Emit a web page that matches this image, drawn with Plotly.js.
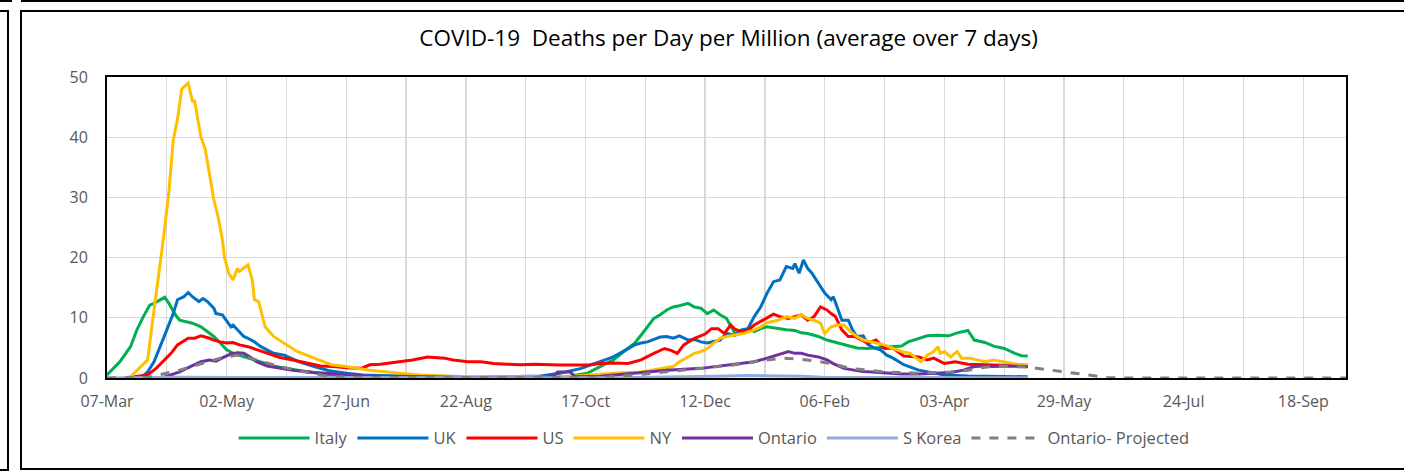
<!DOCTYPE html>
<html>
<head>
<meta charset="utf-8">
<script src="https://cdn.plot.ly/plotly-3.0.1.min.js"></script>
<style>
  html, body { margin: 0; padding: 0; background: #fff; }
  #wrap { position: relative; width: 1404px; height: 473px; overflow: hidden; }
  #chart { position: absolute; left: 0; top: 0; width: 1404px; height: 473px; }
  .ln { position: absolute; background: #000; pointer-events: none; }
</style>
</head>
<body>
<div id="wrap">
  <div id="chart"></div>
  <!-- frame lines of the surrounding chart boxes -->
  <div class="ln" style="left:21px;top:0;width:1383px;height:2px"></div>
  <div class="ln" style="left:0;top:0;width:12px;height:2px"></div>
  <div class="ln" style="left:0;top:10px;width:9px;height:2px"></div>
  <div class="ln" style="left:7px;top:10px;width:2px;height:461px"></div>
  <div class="ln" style="left:0;top:469px;width:9px;height:2px"></div>
  <div class="ln" style="left:20px;top:10px;width:1384px;height:2px"></div>
  <div class="ln" style="left:20px;top:10px;width:2px;height:460px"></div>
  <div class="ln" style="left:20px;top:468px;width:1384px;height:2px"></div>
</div>
<script>
// Day offsets are counted from START_DATE (07-Mar-2020)
const START_DATE = '2020-03-07';
const END_DATE = '2021-10-08';

const italyDays = [0,6,11,14,17,20,22,25,27,29,32,34,37,40,44,47,50,53,56,59,65,72,78,84,94,104,112,130,150,170,190,205,215,225,231,237,243,247,250,253,256,259,262,265,268,272,275,278,281,284,287,290,294,297,300,303,306,309,312,315,318,322,325,328,333,337,342,347,351,356,361,365,369,372,375,380,384,389,394,398,403,406,411,415,420,425,428,431];
const italyVals = [0.5,2.7,5.2,8,10.2,12.1,12.4,13,13.4,12.4,10.5,9.6,9.4,9.1,8.5,7.7,6.9,5.8,4.7,4.1,3.4,2.7,2.0,1.6,1.05,0.5,0.25,0.2,0.15,0.15,0.2,0.2,0.2,0.8,1.9,3,4.7,5.8,7.1,8.5,9.9,10.5,11.3,11.8,12,12.4,11.8,11.6,10.7,11.3,10.5,9.9,7.4,7.7,8.2,7.7,8.2,8.5,8.3,8.1,8,7.9,7.5,7.4,6.9,6.3,5.8,5.4,5.0,4.9,5.0,5.1,5.2,5.3,6,6.6,7,7.1,7,7.5,7.9,6.3,5.9,5.3,4.9,4.1,3.7,3.65];

const ukDays = [16,19,22,25,28,31,33,36,38,40,43,45,47,50,51,54,56,58,59,62,64,66,69,72,75,78,83,86,90,97,104,112,120,136,160,185,203,212,222,231,237,240,244,247,250,253,256,259,262,265,268,272,275,278,281,284,287,290,294,297,300,303,306,309,312,315,318,321,322,324,326,328,330,332,334,336,339,340,342,344,347,349,351,354,356,359,362,365,368,371,373,380,386,392,403,418,431];
const ukVals = [0.05,1,2.7,5.5,8,10.7,13,13.5,14.2,13.5,12.7,13.2,12.7,11.6,10.7,10.5,9.4,8.5,8.8,7.7,6.9,6.6,6,5.2,4.7,4.1,3.8,3.3,2.7,1.9,1.2,0.8,0.5,0.35,0.25,0.2,0.35,0.8,1.6,2.7,3.5,4.1,4.9,5.5,5.8,6,6.4,6.8,6.9,6.6,7,6.3,6.4,6,5.8,6,6.3,7.4,7.1,8,8.2,10.2,11.8,14.1,16,16.3,18.5,18.2,19,17.4,19.6,18.2,17.4,16.3,15.2,14.1,13,13.5,11.6,9.6,9.6,8,6.9,7.0,5.6,5.0,4.7,3.8,3.3,2.6,2.2,1.3,0.9,0.5,0.35,0.25,0.2];

const usDays = [9,19,23,26,30,33,35,38,41,44,48,50,53,56,59,62,66,70,75,81,87,94,100,106,112,119,123,128,136,143,150,153,158,162,169,175,181,187,194,200,206,212,219,225,231,237,244,250,256,261,264,267,270,275,280,283,286,289,292,294,297,300,303,306,309,312,315,319,322,325,328,331,334,337,339,341,344,347,350,353,356,360,362,364,367,369,373,380,384,387,392,397,403,411,419,426,431];
const usVals = [0.05,0.5,1.6,2.7,4.1,5.5,6,6.6,6.6,7,6.6,6.3,6,5.8,5.9,5.5,5.2,4.7,4.1,3.4,3,2.4,2,1.9,1.7,1.6,2.2,2.3,2.7,3,3.5,3.4,3.3,3,2.7,2.7,2.4,2.3,2.2,2.3,2.2,2.15,2.15,2.15,2.4,2.5,2.4,3,4.1,4.9,4.6,4.1,5.5,6.6,7.3,8.2,8.2,7.4,8.8,8.1,7.7,7.9,8.8,9.4,9.9,10.6,10.2,9.9,10.2,10.5,9.6,10.2,11.8,11.3,10.7,10.2,8,6.9,6.9,6.3,5.8,6.3,5.6,4.9,5.0,4.7,3.65,3.5,3,3.3,2.4,2.7,2.3,2.2,2.1,2.2,1.8];

const nyDays = [11,19,23,26,29,31,33,35,38,40,41,44,46,48,50,52,54,55,57,59,61,62,65,66,68,69,71,73,74,78,84,89,97,105,112,123,137,147,161,184,215,225,237,250,259,265,268,272,275,278,281,284,287,290,294,298,303,306,309,314,318,322,325,328,331,334,336,339,342,345,348,351,354,359,364,368,372,376,379,381,384,387,389,390,392,395,398,400,404,411,415,420,426,431];
const nyVals = [0.2,3,14,22,31,39.5,43,48,49,46,46,40,38,33.5,29.6,26.8,23,20,17.4,16.3,18.2,17.7,18.5,18.8,16.3,13,12.7,10.2,8.5,6.9,5.5,4.4,3.3,2.2,1.9,1.3,0.8,0.5,0.3,0.2,0.2,0.5,0.8,1,1.6,1.9,2.7,3.5,4.1,4.4,4.9,5.8,6.6,6.9,7.1,7.4,8,8.5,9.2,9.6,10.2,9.9,10.5,9.9,9.6,9.1,7.4,8.5,8.8,8.8,7.7,6.9,6.3,5.9,5.5,4.9,4.4,4.1,3.3,2.7,3.8,4.4,5.2,4.1,4.4,3.5,4.4,3.3,3.3,2.7,3,2.7,2.3,2.2];

const ontarioDays = [26,34,39,44,48,51,55,58,61,64,67,70,75,81,87,97,106,116,128,137,169,200,209,211,217,219,231,247,262,278,287,297,303,309,314,319,322,325,328,333,337,340,345,353,358,364,372,380,387,395,401,406,411,415,420,426,431];
const ontarioVals = [0.05,1,1.9,2.7,3,2.8,3.5,4,4.2,4.1,3.5,2.7,2,1.6,1.3,0.9,0.65,0.45,0.2,0.3,0.1,0.1,0.3,1,1,0.2,0.3,0.8,1.3,1.6,2,2.4,2.7,3.3,3.8,4.4,4.1,4.1,3.8,3.5,3,2.4,1.6,1.1,1,0.8,0.65,0.65,0.8,0.9,1.3,1.9,2,1.9,2,1.9,1.9];

const sKoreaDays = [0,20,35,60,100,150,200,240,270,285,300,312,325,335,360,400,431];
const sKoreaVals = [0.02,0.1,0.12,0.08,0.03,0.03,0.03,0.05,0.15,0.3,0.4,0.4,0.3,0.12,0.08,0.07,0.05];

const projDays = [0,19,34,44,53,61,65,73,81,94,104,120,231,247,262,278,294,309,317,325,334,340,348,356,364,380,395,403,411,419,431,442,450,458,468,476,580];
const projVals = [0,0.1,1.3,2.4,3.3,3.8,3.5,2.7,1.9,0.9,0.2,0.1,0.1,0.5,1,1.6,2.2,3,3.3,3.1,2.7,2.3,1.6,1.3,1,0.8,1,1.3,1.8,2,1.8,1.3,0.9,0.55,0.1,0,0];

const seriesNames = ['Italy','UK','US','NY','Ontario','S Korea','Ontario- Projected'];
const seriesColors = ['#00B050','#0070C0','#FF0000','#FFC000','#7030A0','#8FAADC','#808080'];

const DAY_MS = 86400000;
const startMs = Date.parse(START_DATE + 'T00:00:00Z');
function toDates(days) {
  return days.map(d => new Date(startMs + d * DAY_MS).toISOString().slice(0, 10));
}

const allDays = [italyDays, ukDays, usDays, nyDays, ontarioDays, sKoreaDays, projDays];
const allVals = [italyVals, ukVals, usVals, nyVals, ontarioVals, sKoreaVals, projVals];

const traces = seriesNames.map((name, i) => ({
  type: 'scatter',
  mode: 'lines',
  name: name,
  x: toDates(allDays[i]),
  y: allVals[i],
  line: {
    color: seriesColors[i],
    width: 3,
    dash: i === 6 ? 'dash' : 'solid',
    shape: 'linear'
  },
  hoverinfo: 'x+y+name'
}));

const gridCol = '#d9d9d9';
const layout = {
  width: 1404,
  height: 473,
  autosize: false,
  margin: { l: 107, r: 58, t: 77, b: 95, pad: 0 },
  paper_bgcolor: '#ffffff',
  plot_bgcolor: '#ffffff',
  font: { family: 'Open Sans, sans-serif', color: '#595959' },
  title: {
    text: 'COVID-19 \u00A0Deaths per Day per Million (average over 7 days)',
    font: { family: 'Open Sans, sans-serif', size: 22.5, color: '#000000' },
    x: 0.519, xanchor: 'center',
    y: 0.92, yanchor: 'middle'
  },
  showlegend: true,
  legend: {
    orientation: 'h',
    x: 0.49, xanchor: 'center',
    y: -0.2, yanchor: 'middle',
    font: { family: 'Open Sans, sans-serif', size: 16.5, color: '#595959' },
    itemwidth: 71,
    bgcolor: 'rgba(0,0,0,0)',
    traceorder: 'normal'
  },
  xaxis: {
    type: 'date',
    range: [START_DATE, END_DATE],
    tick0: START_DATE,
    dtick: 56 * DAY_MS,
    tickformat: '%d-%b',
    showgrid: true,
    gridcolor: gridCol,
    gridwidth: 1.3,
    minor: { tick0: START_DATE, dtick: 28 * DAY_MS, showgrid: true, gridcolor: gridCol, gridwidth: 1.3 },
    showline: true, linecolor: '#000000', linewidth: 2, mirror: true,
    ticks: '',
    ticklabelstandoff: 8,
    tickfont: { family: 'Open Sans, sans-serif', size: 16, color: '#595959' },
    zeroline: false,
    fixedrange: true
  },
  yaxis: {
    range: [0, 50],
    tick0: 0,
    dtick: 10,
    showgrid: true,
    gridcolor: gridCol,
    gridwidth: 1.3,
    showline: true, linecolor: '#000000', linewidth: 2, mirror: true,
    ticks: '',
    ticklabelstandoff: 14,
    tickfont: { family: 'Open Sans, sans-serif', size: 16, color: '#595959' },
    zeroline: false,
    fixedrange: true
  }
};

Plotly.newPlot('chart', traces, layout, { displayModeBar: false, staticPlot: true });
</script>
</body>
</html>
